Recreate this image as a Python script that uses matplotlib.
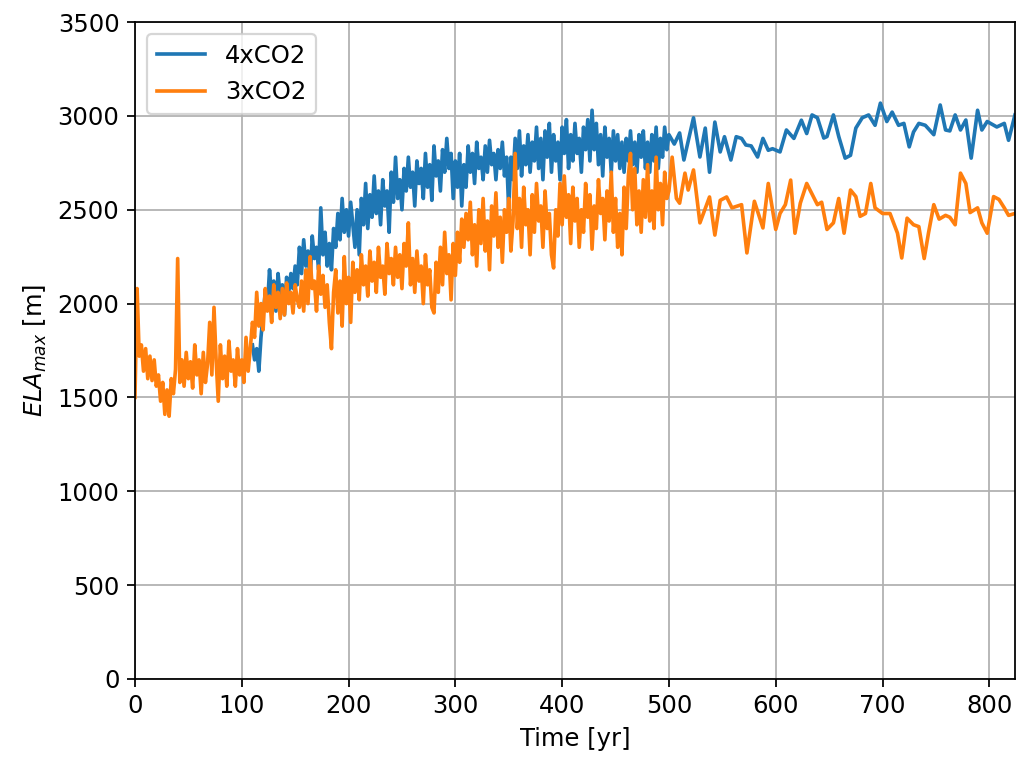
import matplotlib.pyplot as plt
import numpy as np

# 3xCO2, every 2 years from year 0 to 500
years_3x_early = np.arange(0, 501, 2)
ela_3x_early = [
    1500, 2080, 1720, 1780, 1640, 1760, 1600, 1720, 1590, 1700,
    1560, 1620, 1480, 1580, 1410, 1540, 1400, 1600, 1520, 1650,
    2240, 1580, 1700, 1560, 1740, 1600, 1690, 1550, 1780, 1620,
    1700, 1520, 1740, 1580, 1680, 1900, 1620, 1980, 1700, 1480,
    1780, 1600, 1720, 1560, 1800, 1640, 1700, 1560, 1760, 1620,
    1700, 1580, 1820, 1640, 1760, 1900, 1820, 2060, 1880, 2000,
    1860, 2080, 1960, 2040, 1900, 2100, 1980, 2060, 1920, 2080,
    1940, 2110, 2000, 2060, 1950, 2100, 2020, 1980, 2120, 1960,
    2180, 2000, 2250, 2080, 2120, 1960, 2200, 2050, 2150, 1980,
    2100, 1900, 1760, 2060, 2180, 1950, 2120, 1880, 2250, 2000,
    2140, 1900, 2220, 2060, 2180, 2020, 2260, 2100, 2200, 2040,
    2280, 2120, 2220, 2060, 2300, 2140, 2200, 2050, 2320, 2160,
    2240, 2100, 2300, 2140, 2260, 2080, 2320, 2200, 2430, 2100,
    2240, 2060, 2280, 2120, 2200, 2000, 2260, 2100, 2180, 1980,
    1950, 2220, 2060, 2300, 2100, 2380, 2160, 2260, 2020, 2320,
    2150, 2380, 2220, 2450, 2300, 2480, 2340, 2540, 2260, 2420,
    2200, 2500, 2320, 2560, 2280, 2440, 2180, 2520, 2360, 2590,
    2300, 2460, 2220, 2500, 2380, 2560, 2280, 2440, 2800, 2400,
    2560, 2300, 2620, 2420, 2500, 2260, 2580, 2380, 2640, 2440,
    2520, 2300, 2600, 2400, 2480, 2260, 2190, 2500, 2360, 2640,
    2420, 2680, 2460, 2580, 2320, 2620, 2440, 2560, 2300, 2500,
    2380, 2640, 2460, 2580, 2290, 2520, 2400, 2660, 2480, 2560,
    2340, 2600, 2440, 2700, 2380, 2560, 2300, 2480, 2260, 2620,
    2400, 2680, 2800, 2500, 2720, 2420, 2600, 2380, 2660, 2460,
    2740, 2440, 2600, 2400, 2780, 2500, 2640, 2420, 2700, 2560,
    2600,
]

# 3xCO2 after year 500 (coarser sampling)
years_3x_late = [503, 507, 510, 515, 518, 523, 529, 538, 543, 548, 554, 559, 568,
                 573, 580, 588, 593, 600, 604, 609, 614, 618, 623, 629, 639, 643,
                 648, 654, 659, 664, 670, 675, 679, 684, 689, 693, 700, 707, 714,
                 718, 723, 729, 734, 739, 743, 748, 753, 759, 763, 768, 773, 778,
                 782, 789, 793, 798, 804, 809, 814, 818, 824]
ela_3x_late = [2780, 2560, 2535, 2695, 2605, 2712, 2430, 2568, 2365, 2550, 2568, 2510, 2527,
               2270, 2545, 2403, 2640, 2395, 2480, 2527, 2658, 2375, 2535, 2640, 2527, 2540,
               2395, 2430, 2560, 2375, 2605, 2570, 2465, 2480, 2640, 2510, 2480, 2480, 2375,
               2243, 2455, 2420, 2410, 2240, 2375, 2527, 2450, 2470, 2460, 2420, 2695, 2640,
               2485, 2510, 2430, 2375, 2570, 2555, 2510, 2470, 2480]

# 4xCO2, every 2 years from year 110 to 500
years_4x_early = np.arange(110, 501, 2)
ela_4x_early = [
    1780, 1700, 1760, 1640, 1820, 1940, 2060, 1980, 2180, 2040,
    2120, 1960, 2160, 2040, 2100, 1940, 2140, 2060, 2160, 2080,
    2200, 2100, 2300, 2160, 2340, 2200, 2280, 2120, 2360, 2240,
    2300, 2180, 2510, 2260, 2380, 2200, 2320, 2180, 2400, 2300,
    2480, 2340, 2560, 2380, 2500, 2360, 2540, 2420, 2300, 2500,
    2260, 2560, 2420, 2640, 2400, 2580, 2460, 2680, 2480, 2600,
    2420, 2660, 2520, 2600, 2380, 2700, 2540, 2780, 2560, 2660,
    2500, 2720, 2600, 2780, 2620, 2700, 2520, 2760, 2640, 2720,
    2560, 2800, 2620, 2740, 2550, 2840, 2680, 2760, 2600, 2820,
    2700, 2880, 2720, 2800, 2560, 2760, 2620, 2800, 2520, 2740,
    2620, 2840, 2700, 2800, 2640, 2860, 2720, 2780, 2660, 2840,
    2700, 2870, 2740, 2800, 2660, 2820, 2720, 2860, 2680, 2780,
    2500, 2780, 2660, 2880, 2720, 2920, 2680, 2840, 2740, 2900,
    2700, 2860, 2760, 2940, 2720, 2880, 2660, 2920, 2780, 2960,
    2700, 2900, 2760, 2860, 2660, 2940, 2800, 2980, 2720, 2900,
    2760, 2960, 2800, 2880, 2700, 2940, 2820, 2980, 2760, 3030,
    2820, 2960, 2740, 2900, 2680, 2940, 2780, 2880, 2700, 2920,
    2760, 2900, 2720, 2860, 2700, 2880, 2760, 2920, 2740, 2860,
    2700, 2900, 2780, 2920, 2720, 2860, 2700, 2900, 2760, 2940,
    2720, 2880, 2780, 2940, 2820, 2900,
]

# 4xCO2 after year 500
years_4x_late = [505, 510, 514, 523, 529, 534, 538, 543, 548, 552, 558, 563, 568,
                 572, 577, 583, 588, 593, 597, 604, 610, 617, 624, 629, 634, 639,
                 645, 648, 654, 659, 665, 670, 675, 681, 687, 693, 698, 704, 709,
                 715, 720, 725, 729, 734, 740, 748, 754, 759, 763, 768, 773, 778,
                 783, 789, 793, 798, 807, 814, 818, 824]
ela_4x_late = [2850, 2909, 2765, 2990, 2781, 2935, 2700, 2967, 2808, 2889, 2765, 2889, 2880,
               2845, 2840, 2781, 2880, 2817, 2825, 2808, 2925, 2880, 2977, 2906, 3005, 2990,
               2882, 2890, 3005, 2890, 2775, 2790, 2935, 2990, 3005, 2950, 3068, 2970, 3020,
               2950, 2960, 2835, 2914, 2960, 2950, 2900, 3058, 2925, 2920, 3005, 2925, 2978,
               2775, 3030, 2925, 2970, 2941, 2960, 2870, 3005]

time_4x = np.concatenate([years_4x_early, years_4x_late])
ela_4x = np.concatenate([ela_4x_early, ela_4x_late])
time_3x = np.concatenate([years_3x_early, years_3x_late])
ela_3x = np.concatenate([ela_3x_early, ela_3x_late])

plt.rcParams["font.size"] = 11
plt.rcParams["lines.linewidth"] = 1.65

fig = plt.figure(figsize=(1017 / 159, 760 / 159), dpi=159)
ax = fig.add_axes([0.1327, 0.1066, 0.8653, 0.8644])

ax.plot(time_4x, ela_4x, color="tab:blue", label="4xCO2")
ax.plot(time_3x, ela_3x, color="tab:orange", label="3xCO2")

ax.set_xlim(0, 824)
ax.set_ylim(0, 3500)
ax.set_xlabel("Time [yr]")
ax.set_ylabel(r"$ELA_{max}$ [m]")
ax.grid(True)
ax.legend(loc="upper left")

fig.savefig("out.png", dpi=159)
